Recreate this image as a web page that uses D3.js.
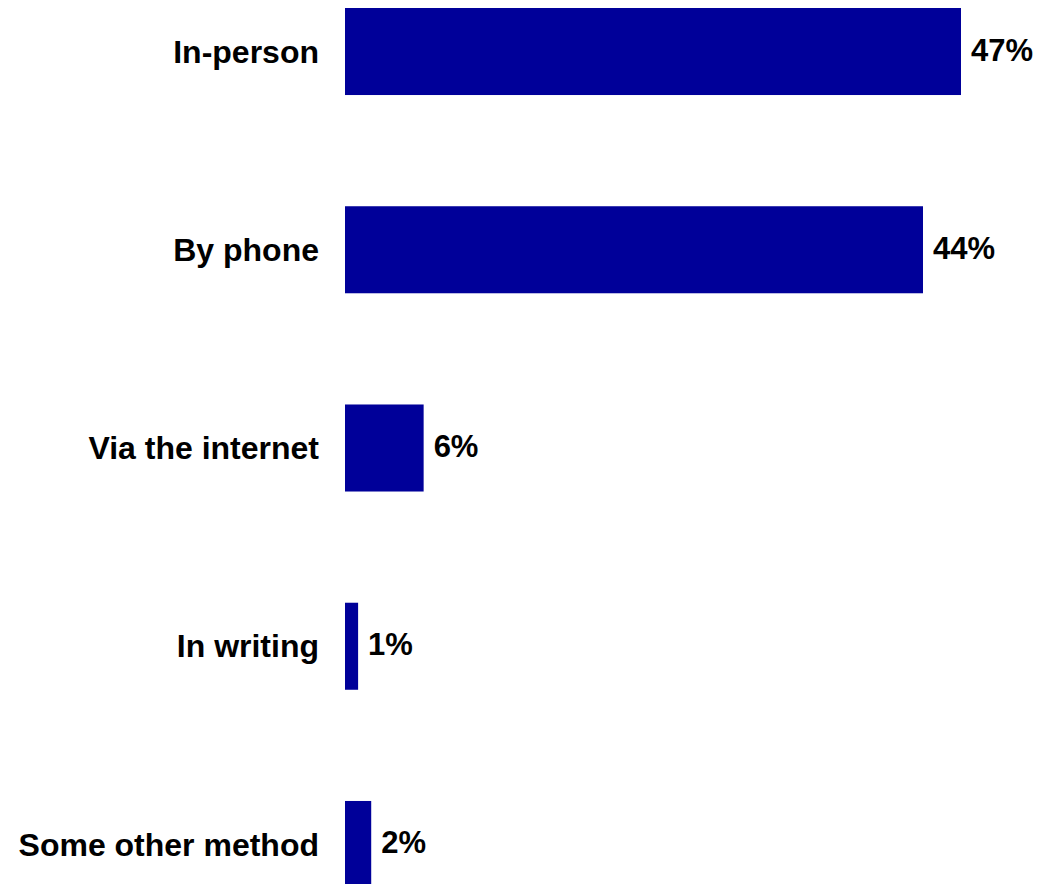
<!DOCTYPE html>
<html><head><meta charset="utf-8">
<script src="https://cdn.jsdelivr.net/npm/d3@7"></script>
<style>html,body{margin:0;padding:0;background:#fff;overflow:hidden}</style>
</head><body>
<script>
const categories = ["In-person","By phone","Via the internet","In writing","Some other method"];
const values = [47,44.1,6,1,2];
const valueLabels = ["47%","44%","6%","1%","2%"];

const W = 1042, H = 884;
const svg = d3.select("body").append("svg").attr("width",W).attr("height",H);
const x = d3.scaleLinear().domain([0,47]).range([345,961]);
const y = d3.scaleBand().domain(categories).range([8,888]).paddingInner(0.561).paddingOuter(0);
const font = "'Liberation Sans', Arial, sans-serif";

svg.selectAll("rect.bar").data(categories).join("rect")
  .attr("x", x(0)).attr("y", d=>y(d))
  .attr("width", (d,i)=>x(values[i])-x(0)).attr("height", y.bandwidth())
  .attr("fill","#000099");

svg.selectAll("text.cat").data(categories).join("text")
  .attr("x", x(0)-26).attr("y", d=>y(d)+y.bandwidth()/2)
  .attr("dy","0.35em").attr("text-anchor","end")
  .attr("font-family",font).attr("font-weight","bold").attr("font-size",32)
  .attr("fill","#000").text(d=>d);

svg.selectAll("text.val").data(categories).join("text")
  .attr("x", (d,i)=>x(values[i])+10).attr("y", d=>y(d)+y.bandwidth()/2)
  .attr("dy","0.29em").attr("text-anchor","start")
  .attr("font-family",font).attr("font-weight","bold").attr("font-size",31)
  .attr("fill","#000").text((d,i)=>valueLabels[i]);
</script>
</body></html>
